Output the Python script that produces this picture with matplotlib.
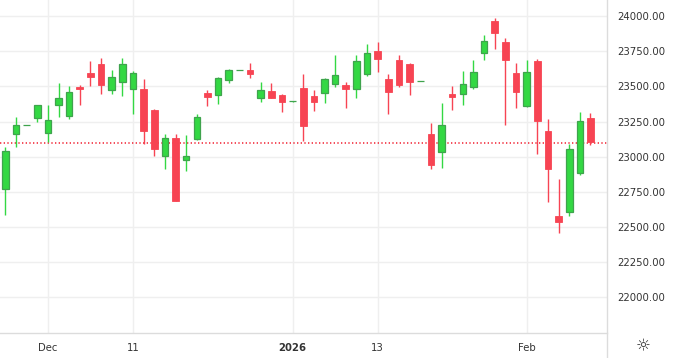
import matplotlib
matplotlib.use("Agg")
import matplotlib.pyplot as plt
from matplotlib.lines import Line2D
import numpy as np

opens = [22772, 23163, 23223, 23277, 23170, 23369, 23291, 23495, 23595, 23659,
         23472, 23529, 23479, 23479, 23332, 23007, 23133, 22974, 23123, 23450,
         23440, 23547, 23614, 23616, 23419, 23467, 23438, 23393, 23488, 23431,
         23455, 23519, 23507, 23483, 23585, 23751, 23550, 23685, 23659, 23536,
         23161, 23031, 23445, 23443, 23493, 23735, 23964, 23813, 23593, 23362,
         23680, 23182, 22576, 22604, 22886, 23275]
highs = [23069, 23282, 23224, 23368, 23365, 23524, 23502, 23509, 23680, 23699,
         23614, 23699, 23607, 23552, 23339, 23161, 23161, 23154, 23303, 23474,
         23568, 23621, 23615, 23666, 23531, 23524, 23445, 23394, 23588, 23474,
         23559, 23723, 23531, 23723, 23801, 23815, 23588, 23721, 23664, 23537,
         23239, 23381, 23502, 23609, 23687, 23865, 23986, 23844, 23666, 23687,
         23694, 23268, 22841, 23090, 23317, 23310]
lows = [22585, 23071, 23222, 23248, 23104, 23284, 23270, 23367, 23502, 23448,
        23448, 23433, 23305, 23092, 23007, 22914, 22685, 22900, 23120, 23362,
        23376, 23526, 23613, 23559, 23389, 23417, 23317, 23392, 23111, 23327,
        23384, 23497, 23348, 23419, 23576, 23604, 23305, 23497, 23440, 23535,
        22914, 22921, 23334, 23369, 23483, 23689, 23768, 23225, 23348, 23355,
        23021, 22680, 22459, 22580, 22872, 23085]
closes = [23040, 23223, 23223, 23365, 23258, 23415, 23457, 23481, 23568, 23511,
          23564, 23657, 23593, 23184, 23056, 23133, 22687, 23005, 23282, 23426,
          23557, 23614, 23614, 23590, 23472, 23419, 23391, 23393, 23220, 23391,
          23550, 23578, 23483, 23680, 23735, 23696, 23462, 23511, 23533, 23536,
          22943, 23223, 23426, 23514, 23600, 23820, 23881, 23689, 23462, 23600,
          23256, 22914, 22537, 23052, 23253, 23102]
ref_level = 23100
tick_pos = [4, 12, 27, 35, 49]
tick_labels = ["Dec", "11", "2026", "13", "Feb"]
ytick_vals = [22000, 22250, 22500, 22750, 23000, 23250, 23500, 23750, 24000]

GREEN = "#33d843"
GREEN_EDGE = "#3fa34d"
RED = "#f74453"
GRID = "#efefef"
TXT = "#333333"

W, H = 673, 358
fig = plt.figure(figsize=(W / 100, H / 100), dpi=100)
fig.patch.set_facecolor("white")
ax = fig.add_axes([0, 25 / H, 607.3 / W, 333 / H])

x = np.arange(len(opens))
o = np.array(opens, float); c = np.array(closes, float)
h = np.array(highs, float); l = np.array(lows, float)
up = c >= o

# wicks
ax.vlines(x[up], l[up], h[up], color=GREEN, lw=1.0, zorder=2)
ax.vlines(x[~up], l[~up], h[~up], color=RED, lw=1.0, zorder=2)

bw = 0.62
bottoms = np.minimum(o, c)
heights = np.abs(c - o)
ax.bar(x[up], heights[up], bottom=bottoms[up], width=bw, color=GREEN,
       edgecolor=GREEN_EDGE, linewidth=0.9, zorder=3)
ax.bar(x[~up], heights[~up], bottom=bottoms[~up], width=bw, color=RED,
       edgecolor=RED, linewidth=0.6, zorder=3)

ax.axhline(ref_level, color="#f2303f", lw=1.2, ls=(0, (0.8, 1.4)), zorder=1)

ax.set_xlim(-0.5, 56.58)
ax.set_ylim(21746, 24114)

ax.set_yticks(ytick_vals)
ax.set_yticklabels([f"{v:.2f}" for v in ytick_vals])
ax.yaxis.tick_right()
ax.set_xticks(tick_pos)
ax.set_xticklabels(tick_labels)
for lbl in ax.get_xticklabels():
    if lbl.get_text() == "2026":
        lbl.set_fontweight("bold")
ax.tick_params(axis="y", length=0, pad=7, labelsize=7.3, labelcolor=TXT)
ax.tick_params(axis="x", length=0, pad=7, labelsize=7.3, labelcolor=TXT)

ax.grid(True, color=GRID, lw=1.0, zorder=0)
ax.set_axisbelow(True)
for s in ["top", "left", "right"]:
    ax.spines[s].set_visible(False)
ax.spines["bottom"].set_color("#dcdcdc")
ax.spines["bottom"].set_linewidth(1.0)

fig.add_artist(Line2D([607.3 / W, 607.3 / W], [0, 1], transform=fig.transFigure,
                      color="#dcdcdc", lw=1.0))
fig.text(643.5 / W, 1 - 346 / H, "\u263c", ha="center", va="center",
         fontsize=12, color=TXT, family="DejaVu Sans")

fig.savefig("out.png", dpi=100, facecolor="white")
